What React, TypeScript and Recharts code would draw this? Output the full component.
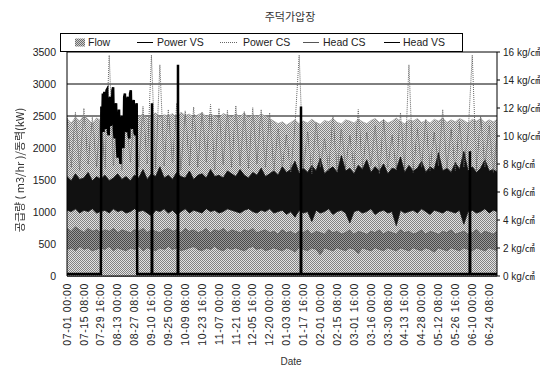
import React from 'react';
import { ComposedChart, Area, Line, XAxis, YAxis, CartesianGrid } from 'recharts';

// x tick labels (every 14 days 8 hours = 344 h)
const tickLabels = [
  '07-01 00:00', '07-15 08:00', '07-29 16:00', '08-13 00:00', '08-27 08:00', '09-10 16:00',
  '09-25 00:00', '10-09 08:00', '10-23 16:00', '11-07 00:00', '11-21 08:00', '12-05 16:00',
  '12-20 00:00', '01-03 08:00', '01-17 16:00', '02-01 00:00', '02-15 08:00', '03-01 16:00',
  '03-16 00:00', '03-30 08:00', '04-13 16:00', '04-28 00:00', '05-12 08:00', '05-26 16:00',
  '06-10 00:00', '06-24 08:00',
];
const TICK_STEP_HOURS = 344;
const SAMPLE_STEP_HOURS = 86;
const leftTicks = [0, 500, 1000, 1500, 2000, 2500, 3000, 3500];
const rightTicks = [0, 2, 4, 6, 8, 10, 12, 14, 16];

// Flow (m3/hr)
const flow = [
  2460, 2390, 2480, 2420, 2510, 2450, 2380, 2470,
  2430, 2400, 2460, 2410, 2440, 2380, 2450, 2420,
  2440, 2490, 2530, 2460, 2510, 2550, 2480, 2520,
  2500, 2540, 2470, 2560, 2510, 2530, 2480, 2520,
  2550, 2490, 2530, 2500, 2470, 2540, 2510, 2480,
  2530, 2490, 2550, 2470, 2520, 2490, 2530, 2500,
  2460, 2420, 2380, 2410, 2360, 2400, 2440, 2380,
  2420, 2390, 2450, 2400, 2370, 2430, 2410, 2460,
  2400, 2380, 2440, 2420, 2390, 2450, 2410, 2380,
  2430, 2460, 2400, 2440, 2390, 2420, 2470, 2410,
  2380, 2440, 2420, 2460, 2400, 2430, 2390, 2450,
  2420, 2470, 2400, 2440, 2410, 2460, 2430, 2390,
  2450, 2420, 2460, 2400, 2440, 2410, 2450,
];

// Power CS (kW)
const powerCS = [
  2500, 1700, 2560, 1650, 2620, 1750, 2480, 1700,
  2550, 1680, 3450, 1720, 2600, 1650, 2520, 1780,
  2580, 1700, 2650, 1750, 3450, 1680, 3300, 1720,
  2600, 1760, 2700, 1650, 2580, 1720, 2640, 1700,
  2560, 1780, 2680, 1660, 2620, 1740, 2590, 1700,
  2660, 1720, 2570, 1680, 2630, 1750, 2600, 1700,
  2550, 1650, 2300, 1700, 2200, 1620, 2350, 3450,
  1680, 2250, 1600, 2400, 1700, 2150, 1650, 2500,
  1620, 2300, 1700, 2200, 1650, 2600, 1680, 2250,
  1720, 2350, 1600, 2450, 1700, 2200, 1650, 2550,
  1680, 3300, 1620, 2300, 1700, 2450, 1650, 2250,
  1720, 2600, 1680, 2300, 1650, 2400, 1700, 2200,
  3450, 1650, 2500, 1700, 2350, 1620, 2300,
];

// Head VS (kg/cm2) band
const headVSHigh = [
  7.1, 6.8, 7.3, 6.9, 7.0, 7.4, 6.8, 7.1,
  6.9, 7.2, 6.8, 7.0, 7.3, 6.9, 7.1, 6.8,
  7.2, 7.0, 7.6, 6.9, 7.3, 7.1, 7.8, 7.0,
  7.2, 6.9, 7.4, 7.1, 7.0, 7.5, 6.9, 7.2,
  7.3, 7.0, 7.6, 7.1, 7.2, 7.0, 7.5, 7.3,
  7.1, 7.6, 7.2, 7.0, 7.4, 7.2, 7.7, 7.1,
  7.3, 7.5, 7.2, 7.8, 7.4, 7.6, 8.2, 7.3,
  7.7, 7.4, 7.9, 7.5, 8.4, 7.3, 7.6, 7.8,
  7.4, 8.6, 7.5, 7.7, 7.3, 7.9, 7.6, 8.3,
  7.4, 7.8, 7.5, 8.0, 7.3, 7.7, 7.6, 8.5,
  7.4, 7.9, 7.5, 7.7, 8.2, 7.4, 7.8, 7.6,
  8.8, 7.5, 7.7, 7.4, 8.1, 7.6, 8.9, 7.5,
  7.8, 7.4, 7.7, 8.3, 7.5, 7.6, 7.4,
];
const headVSLow = [
  4.7, 4.6, 4.8, 4.5, 4.7, 4.6, 4.8, 4.5,
  4.6, 4.7, 4.5, 4.8, 4.6, 4.7, 4.5, 4.6,
  4.8, 4.6, 4.7, 4.5, 4.3, 4.7, 4.6, 4.8,
  4.5, 4.7, 4.4, 4.6, 4.8, 4.5, 4.7, 4.6,
  4.5, 4.8, 4.6, 4.7, 4.5, 4.6, 4.8, 4.7,
  4.6, 4.5, 4.7, 4.8, 4.6, 4.5, 4.7, 4.6,
  4.8, 4.5, 4.6, 4.7, 4.4, 4.6, 4.2, 4.7,
  4.5, 4.6, 3.9, 4.7, 4.5, 4.6, 4.8, 4.4,
  4.6, 4.7, 4.5, 3.8, 4.6, 4.7, 4.5, 4.6,
  4.8, 4.4, 4.6, 4.7, 4.5, 4.6, 3.6, 4.7,
  4.5, 4.6, 4.7, 4.5, 4.8, 4.6, 4.4, 4.7,
  4.6, 4.5, 4.7, 4.6, 4.5, 4.7, 3.7, 4.6,
  4.7, 4.5, 4.6, 4.8, 4.5, 4.7, 4.6,
];

// Head CS (kg/cm2) band
const headCSHigh = [
  3.4, 3.2, 3.5, 3.3, 3.1, 3.4, 3.2, 3.3,
  3.1, 3.3, 3.2, 3.4, 3.1, 3.3, 3.2, 3.1,
  3.3, 3.2, 3.4, 3.1, 3.3, 3.2, 3.1, 3.3,
  3.4, 3.2, 3.3, 3.1, 3.4, 3.2, 3.3, 3.1,
  3.2, 3.4, 3.1, 3.3, 3.2, 3.4, 3.1, 3.3,
  3.2, 3.1, 3.3, 3.2, 3.4, 3.1, 3.2, 3.3,
  3.1, 3.2, 3.0, 3.3, 3.1, 3.2, 3.0, 3.2,
  3.1, 3.3, 3.0, 3.2, 3.1, 3.0, 3.3, 3.1,
  3.2, 3.0, 3.1, 3.3, 3.0, 3.2, 3.1, 3.0,
  3.2, 3.1, 3.3, 3.0, 3.2, 3.1, 3.0, 3.3,
  3.1, 3.2, 3.0, 3.1, 3.3, 3.0, 3.2, 3.1,
  3.0, 3.2, 3.1, 3.3, 3.0, 3.1, 3.2, 3.0,
  3.1, 3.3, 3.0, 3.2, 3.1, 3.0, 3.2,
];
const headCSLow = [
  1.9, 2.0, 1.8, 2.1, 1.9, 2.0, 1.8, 1.9,
  2.0, 1.9, 2.1, 1.8, 2.0, 1.9, 1.8, 2.0,
  1.9, 2.1, 1.8, 2.0, 1.9, 1.8, 2.0, 1.9,
  2.1, 1.9, 2.0, 1.8, 1.9, 2.0, 2.1, 1.9,
  1.8, 2.0, 1.9, 2.1, 1.9, 1.8, 2.0, 1.9,
  2.0, 1.9, 1.8, 2.0, 2.1, 1.9, 2.0, 1.8,
  1.9, 2.0, 1.9, 1.8, 2.0, 1.9, 1.7, 2.0,
  1.9, 1.8, 2.0, 1.9, 1.5, 2.0, 1.9, 1.8,
  2.0, 1.9, 1.8, 2.0, 1.9, 1.6, 2.0, 1.9,
  1.8, 2.0, 1.9, 1.8, 2.0, 1.9, 1.8, 2.0,
  1.9, 1.8, 2.0, 1.9, 1.8, 2.0, 1.9, 1.7,
  2.0, 1.9, 1.8, 2.0, 1.9, 1.8, 2.0, 1.9,
  1.8, 2.0, 1.9, 1.8, 2.0, 1.9, 1.8,
];

// Power VS (kW): hours since 07-01 00:00 and values
const powerVSHours = [
  0, 690,
  700, 715, 730, 745, 760, 775, 790, 805, 820, 835, 850, 865, 880, 895, 910, 925, 940, 955,
  970, 985, 1000, 1015, 1030, 1045, 1060, 1075, 1090, 1105, 1120, 1135, 1150, 1165, 1180, 1195,
  1210, 1225, 1240, 1255, 1270, 1285, 1300, 1315, 1330, 1345, 1360, 1375, 1390, 1405, 1420,
  1430, 1726, 1731, 1736, 2256, 2261, 2266, 4762, 4767, 4772, 8204, 8209, 8214, 8760,
];
const powerVSValues = [
  30, 30,
  2650, 2300, 2850, 2250, 2880, 2400, 2300, 2900, 2920, 2250, 2200, 2750, 2800, 2350, 2400, 2900, 2950, 2300,
  2150, 2650, 2700, 2100, 1850, 2500, 2600, 1900, 1750, 2450, 2500, 2050, 2000, 2800, 2850, 2300,
  2250, 2750, 2800, 2200, 2150, 2850, 2900, 2350, 2300, 2700, 2750, 2250, 2200, 2650, 2700,
  30, 30, 2700, 30, 30, 3300, 30, 30, 2650, 30, 30, 1950, 30, 30,
];

const data = flow.map((f, i) => ({
  t: i * SAMPLE_STEP_HOURS,
  flow: f,
  powerCS: powerCS[i],
  headVS: [headVSLow[i], headVSHigh[i]],
  headCS: [headCSLow[i], headCSHigh[i]],
}));
const powerVSData = powerVSHours.map((t, i) => ({ t, powerVS: powerVSValues[i] }));
const xTicks = tickLabels.map((_, k) => k * TICK_STEP_HOURS);

const LATIN = "'Liberation Sans', Arial, 'Noto Sans CJK KR', sans-serif";
const KOREAN = "'Noto Sans CJK KR', 'Liberation Sans', sans-serif";

const XTick = (props: any) => {
  const { x, y, payload } = props;
  const label = tickLabels[Math.round(payload.value / TICK_STEP_HOURS)] ?? '';
  return (
    <g transform={`translate(${x},${y})`}>
      <text transform="rotate(-90)" textAnchor="end" dy="0.35em" fontSize={10.5}
        fontFamily={LATIN} fill="#222" letterSpacing={0.6}>{label}</text>
    </g>
  );
};

const RightTick = (props: any) => {
  const { x, y, payload } = props;
  return (
    <text x={x} y={y} dy="0.35em" textAnchor="start" fontSize={10} fontFamily={LATIN} fill="#222">
      {`${payload.value} kg/㎠`}
    </text>
  );
};

export default function App() {
  return (
    <div style={{ position: 'absolute', left: 0, top: 0, width: 540, height: 370, background: '#fff' }}>
      <ComposedChart width={540} height={370} data={data}
        margin={{ top: 52, right: 3, bottom: 14, left: 10 }}>
        <defs>
          <pattern id="flowPat" width="2" height="2" patternUnits="userSpaceOnUse">
            <rect width="2" height="2" fill="#e2e2e2" />
            <rect width="1" height="1" fill="#828282" />
            <rect x="1" y="1" width="1" height="1" fill="#828282" />
          </pattern>
          <pattern id="hcsPat" width="2" height="2" patternUnits="userSpaceOnUse">
            <rect width="2" height="2" fill="#9a9a9a" />
            <rect width="1" height="1" fill="#4a4a4a" />
            <rect x="1" y="1" width="1" height="1" fill="#4a4a4a" />
          </pattern>
        </defs>
        <CartesianGrid yAxisId="left" vertical={false} stroke="#000" strokeWidth={1} />
        <XAxis dataKey="t" type="number" domain={[0, 8760]} allowDataOverflow ticks={xTicks}
          height={80} tick={<XTick />} tickSize={0} tickMargin={7} interval={0}
          axisLine={{ stroke: '#000' }} tickLine={false} />
        <YAxis yAxisId="left" domain={[0, 3500]} ticks={leftTicks} width={57}
          tick={{ fontSize: 10.5, fill: '#222', fontFamily: LATIN }} tickSize={0} tickMargin={11}
          axisLine={{ stroke: '#000' }} tickLine={false} interval={0} />
        <YAxis yAxisId="right" orientation="right" domain={[0, 16]} ticks={rightTicks} width={40}
          tick={<RightTick />} tickSize={3} tickMargin={3}
          axisLine={{ stroke: '#000' }} tickLine={{ stroke: '#000' }} interval={0} />
        <Area yAxisId="left" dataKey="flow" type="linear" fill="url(#flowPat)" fillOpacity={1}
          stroke="#9a9a9a" strokeWidth={0.6} isAnimationActive={false} />
        <Line yAxisId="left" dataKey="powerCS" type="linear" stroke="#666" strokeWidth={1}
          strokeDasharray="1 1" dot={false} isAnimationActive={false} />
        <Area yAxisId="right" dataKey="headCS" type="linear" fill="url(#hcsPat)" fillOpacity={1}
          stroke="#555" strokeWidth={0.6} isAnimationActive={false} />
        <Area yAxisId="right" dataKey="headVS" type="linear" fill="#111" fillOpacity={1}
          stroke="#111" strokeWidth={0.8} isAnimationActive={false} />
        <Line yAxisId="left" data={powerVSData} dataKey="powerVS" type="linear" stroke="#000"
          strokeWidth={2.5} dot={false} isAnimationActive={false} />
      </ComposedChart>
      <svg width={540} height={370} style={{ position: 'absolute', left: 0, top: 0, pointerEvents: 'none' }}>
        <defs>
          <pattern id="flowPat2" width="2" height="2" patternUnits="userSpaceOnUse">
            <rect width="2" height="2" fill="#cfcfcf" />
            <rect width="1" height="1" fill="#6c6c6c" />
            <rect x="1" y="1" width="1" height="1" fill="#6c6c6c" />
          </pattern>
        </defs>
        <text x={290} y={21} textAnchor="middle" fontSize={11} fontFamily={KOREAN} fill="#333">주덕가압장</text>
        <text x={291} y={365} textAnchor="middle" fontSize={10} fontFamily={LATIN} fill="#333">Date</text>
        <g transform="translate(20,170) rotate(-90)" style={{ filter: 'grayscale(100%)' }}>
          <text x={0} y={0} textAnchor="middle" dy="0.35em" fontSize={11}
            fontFamily={KOREAN} fill="#333">공급량 ( m3/hr )/동력(kW)</text>
        </g>
        <rect x={60.5} y={33.5} width={402} height={18} fill="#fff" stroke="#000" strokeWidth={1} />
        <rect x={75} y={38.5} width={10} height={8} fill="url(#flowPat2)" />
        <g fontSize={10.5} fontFamily={LATIN} fill="#222">
          <text x={88} y={46}>Flow</text>
          <line x1={137} x2={153} y1={42.5} y2={42.5} stroke="#000" strokeWidth={1} />
          <text x={157} y={46}>Power VS</text>
          <line x1={220} x2={238} y1={42.5} y2={42.5} stroke="#666" strokeWidth={1} strokeDasharray="1 1" />
          <text x={243} y={46}>Power CS</text>
          <line x1={303} x2={319} y1={42.5} y2={42.5} stroke="#555" strokeWidth={1} />
          <text x={323} y={46}>Head CS</text>
          <line x1={384} x2={400} y1={42.5} y2={42.5} stroke="#000" strokeWidth={1} />
          <text x={403} y={46}>Head VS</text>
        </g>
      </svg>
    </div>
  );
}
